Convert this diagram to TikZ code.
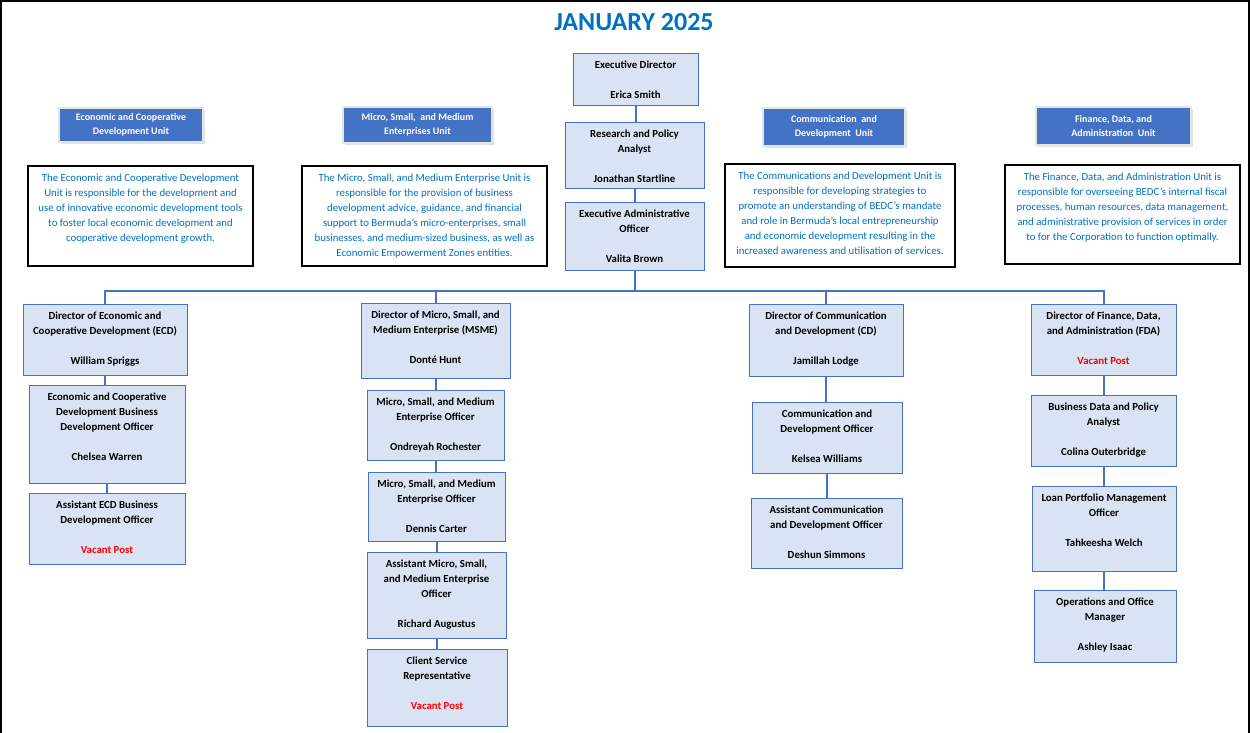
\documentclass[tikz,border=0pt]{standalone}
\usepackage{fontspec}
\setmainfont{Carlito}
\usetikzlibrary{shadows}
\definecolor{accblue}{RGB}{68,114,196}
\definecolor{boxfill}{RGB}{218,227,243}
\definecolor{txtblue}{RGB}{0,112,192}
\definecolor{vacred}{RGB}{255,0,0}
\tikzset{
    %Define style for post boxes
    post/.style={
           rectangle,
           draw=accblue, line width=1pt,
           fill=boxfill,
           inner sep=0pt,
           font=\bfseries\fontsize{10.8}{15}\selectfont},
    % Define style for unit headers
    unit/.style={
           rectangle,
           fill=accblue,
           draw=gray!20, line width=1.5pt,
           drop shadow={shadow xshift=2pt, shadow yshift=-2pt, fill=gray!45},
           text=white,
           align=center,
           inner sep=0pt,
           font=\bfseries\fontsize{10}{14}\selectfont},
    % Define style for remit boxes
    remit/.style={
           rectangle,
           draw=black, line width=2pt,
           fill=white,
           inner sep=0pt,
           text=txtblue,
           font=\fontsize{10.8}{15}\selectfont},
    % Define line style
    lnk/.style={
           draw=accblue,
           line width=2pt}
}
\newcommand*{\pnode}[7][post]{\node[#1, anchor=north] (#2) at (#3,#4) {\parbox[t][#6pt][t]{#5pt}{\centering\vspace*{4.8pt}\strut#7}};}

\begin{document}
\begin{tikzpicture}[x=1pt,y=-1pt]
\useasboundingbox (0,0) rectangle (1250,733);
% Title
\node[font=\bfseries\fontsize{26}{30}\selectfont, text=txtblue] (ttl) at (634,22) {JANUARY 2025};

% Unit headers
\node[unit, minimum width=144pt, minimum height=34pt] (ecdu) at (131,125) {Economic and Cooperative\\Development Unit};
\node[unit, minimum width=149pt, minimum height=36pt] (msmeu) at (417.5,125) {Micro, Small,\ \ and Medium\\Enterprises Unit};
\node[unit, minimum width=142pt, minimum height=38pt] (cdu) at (834,127) {Communication\ \ and\\Development\ \ Unit};
\node[unit, minimum width=155pt, minimum height=38pt] (fdau) at (1113.5,126) {Finance, Data, and\\Administration\ \ Unit};

% Unit remits
\pnode[remit]{ecdr}{140.5}{165}{225}{100}{The Economic and Cooperative Development\\Unit is responsible for the development and\\use of innovative economic development tools\\to foster local economic development and\\cooperative development growth.}
\pnode[remit]{msmer}{424.5}{165}{245}{100}{The Micro, Small, and Medium Enterprise Unit is\\responsible for the provision of business\\development advice, guidance, and financial\\support to Bermuda’s micro-enterprises, small\\businesses, and medium-sized business, as well as\\Economic Empowerment Zones entities.}
\pnode[remit]{cdr}{840}{163}{230}{103}{The Communications and Development Unit is\\responsible for developing strategies to\\promote an understanding of BEDC’s mandate\\and role in Bermuda’s local entrepreneurship\\and economic development resulting in the\\increased awareness and utilisation of services.}
\pnode[remit]{fdar}{1122.5}{164}{235}{99}{The Finance, Data, and Administration Unit is\\responsible for overseeing BEDC’s internal fiscal\\processes, human resources, data management,\\and administrative provision of services in order\\to for the Corporation to function optimally.}

% Executive office
\pnode{exd}{635.5}{53}{125}{52}{Executive Director\\[15pt]Erica Smith}
\pnode{rpa}{634.5}{122}{139}{66}{Research and Policy\\Analyst\\[15pt]Jonathan Startline}
\pnode{eao}{634.5}{202}{139}{68}{Executive Administrative\\Officer\\[15pt]Valita Brown}

% ECD column
\pnode{ecd}{105}{304}{164}{71}{Director of Economic and\\Cooperative Development (ECD)\\[15pt]William Spriggs}
\pnode{ecdbdo}{107}{385}{156}{98}{Economic and Cooperative\\Development Business\\Development Officer\\[15pt]Chelsea Warren}
\pnode{aecd}{107}{493}{156}{71}{Assistant ECD Business\\Development Officer\\[15pt]\textcolor{vacred}{Vacant Post}}

% MSME column
\pnode{msme}{435.5}{303}{149}{75}{Director of Micro, Small, and\\Medium Enterprise (MSME)\\[15pt]Donté Hunt}
\pnode{msmeo}{435.5}{390}{137}{70}{Micro, Small, and Medium\\Enterprise Officer\\[15pt]Ondreyah Rochester}
\pnode{msmeoo}{436.5}{472}{137}{69}{Micro, Small, and Medium\\Enterprise Officer\\[15pt]Dennis Carter}
\pnode{amsme}{436.5}{552}{139}{86}{Assistant Micro, Small,\\and Medium Enterprise\\Officer\\[15pt]Richard Augustus}
\pnode{csr}{437}{649}{140}{77}{Client Service\\Representative\\[15pt]\textcolor{vacred}{Vacant Post}}

% CD column
\pnode{cd}{826}{304}{154}{72}{Director of Communication\\and Development (CD)\\[15pt]Jamillah Lodge}
\pnode{cdo}{827}{402}{150}{71}{Communication and\\Development Officer\\[15pt]Kelsea Williams}
\pnode{acdo}{826.5}{498}{151}{70}{Assistant Communication\\and Development Officer\\[15pt]Deshun Simmons}

% FDA column
\pnode{fda}{1103.5}{304}{145}{71}{Director of Finance, Data,\\and Administration (FDA)\\[15pt]\textcolor{vacred}{Vacant Post}}
\pnode{bdpa}{1103.5}{395}{145}{71}{Business Data and Policy\\Analyst\\[15pt]Colina Outerbridge}
\pnode{lpmo}{1104}{486}{144}{85}{Loan Portfolio Management\\Officer\\[15pt]Tahkeesha Welch}
\pnode{oom}{1105}{590}{142}{72}{Operations and Office\\Manager\\[15pt]Ashley Isaac}

% Now connect the nodes
\coordinate (bus) at (634.5,291);
\draw[lnk] (exd.south) -- (exd.south |- rpa.north);
\draw[lnk] (rpa.south) -- (eao.north);
\draw[lnk] (eao.south) -- (bus);
\draw[lnk] (ecd.north) |- (bus) -| (fda.north);
\draw[lnk] (msme.north) -- (msme.north |- bus);
\draw[lnk] (cd.north) -- (cd.north |- bus);

\draw[lnk] (ecd.south) -- (ecd.south |- ecdbdo.north);
\draw[lnk] (ecdbdo.south) -- (aecd.north);
\draw[lnk] (msme.south) -- (msmeo.north);
\draw[lnk] (msmeo.south) -- (msmeo.south |- msmeoo.north);
\draw[lnk] (msmeoo.south) -- (amsme.north);
\draw[lnk] (amsme.south) -- (amsme.south |- csr.north);
\draw[lnk] (cd.south) -- (cd.south |- cdo.north);
\draw[lnk] (cdo.south) -- (cdo.south |- acdo.north);
\draw[lnk] (fda.south) -- (bdpa.north);
\draw[lnk] (bdpa.south) -- (bdpa.south |- lpmo.north);
\draw[lnk] (lpmo.south) -- (lpmo.south |- oom.north);

% Page frame
\draw[line width=2pt] (1,733) -- (1,1) -- (1249,1) -- (1249,733);
\end{tikzpicture}
\end{document}
